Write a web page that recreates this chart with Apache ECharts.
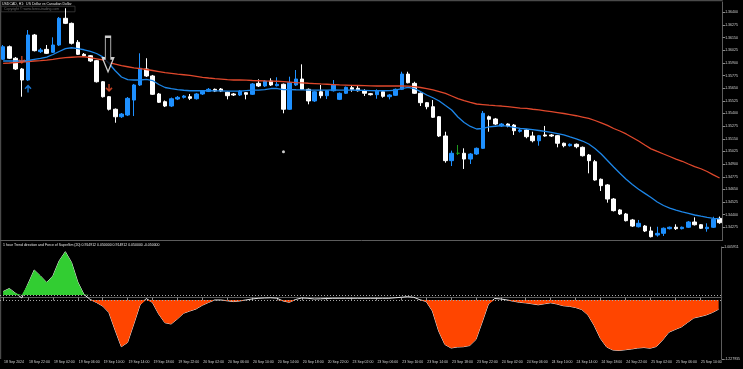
<!DOCTYPE html>
<html><head><meta charset="utf-8">
<script src="https://cdn.jsdelivr.net/npm/echarts@6/dist/echarts.min.js"></script>
<style>html,body{margin:0;padding:0;background:#000}#c{width:743px;height:369px}</style>
</head><body><div id="c"></div>
<script>
// ---- data ----
const sessions = [['18 Sep',18,23],['19 Sep',0,23],['20 Sep',0,23],['23 Sep',0,23],['24 Sep',0,23],['25 Sep',0,13]];
const xTickLabels = ['18 Sep 2024','18 Sep 22:00','19 Sep 02:00','19 Sep 06:00','19 Sep 10:00','19 Sep 14:00','19 Sep 18:00','19 Sep 22:00',
  '20 Sep 02:00','20 Sep 06:00','20 Sep 10:00','20 Sep 14:00','20 Sep 18:00','20 Sep 22:00','23 Sep 02:00','23 Sep 06:00',
  '23 Sep 10:00','23 Sep 14:00','23 Sep 18:00','23 Sep 22:00','24 Sep 02:00','24 Sep 06:00','24 Sep 10:00','24 Sep 14:00',
  '24 Sep 18:00','24 Sep 22:00','25 Sep 02:00','25 Sep 06:00','25 Sep 10:00'];
const priceTicks = {min: 1.3415, max: 1.36502, step: 0.00125};
// [open, close, low, high]
const ohlc = [
[1.35936,1.36060,1.35929,1.36077],[1.36060,1.35946,1.35939,1.36072],[1.35946,1.35840,1.35830,1.35958],[1.35840,1.35731,1.35566,1.35850],
[1.35731,1.36176,1.35721,1.36225],[1.36176,1.36021,1.36013,1.36186],[1.36011,1.36028,1.35998,1.36047],[1.36034,1.35995,1.35988,1.36077],
[1.36005,1.36077,1.35998,1.36153],[1.36077,1.36341,1.36067,1.36354],[1.36341,1.36291,1.36284,1.36440],[1.36291,1.36094,1.36082,1.36299],
[1.36104,1.35985,1.35978,1.36126],[1.35985,1.35971,1.35958,1.35998],[1.35971,1.35919,1.35909,1.35978],[1.35922,1.35714,1.35706,1.35929],
[1.35714,1.35566,1.35558,1.35721],[1.35566,1.35442,1.35430,1.35573],[1.35442,1.35368,1.35309,1.35450],[1.35368,1.35395,1.35356,1.35405],
[1.35385,1.35550,1.35375,1.35563],[1.35533,1.35682,1.35375,1.35692],[1.35682,1.35847,1.35672,1.35995],[1.35840,1.35771,1.35761,1.35946],
[1.35771,1.35590,1.35583,1.35781],[1.35593,1.35511,1.35504,1.35603],[1.35517,1.35474,1.35464,1.35529],[1.35474,1.35546,1.35464,1.35558],
[1.35543,1.35560,1.35533,1.35573],[1.35560,1.35573,1.35548,1.35583],[1.35566,1.35550,1.35533,1.35593],[1.35546,1.35593,1.35538,1.35603],
[1.35593,1.35622,1.35583,1.35632],[1.35619,1.35639,1.35612,1.35652],[1.35639,1.35622,1.35612,1.35647],[1.35642,1.35622,1.35612,1.35652],
[1.35610,1.35576,1.35540,1.35617],[1.35593,1.35583,1.35573,1.35603],[1.35583,1.35622,1.35573,1.35632],[1.35606,1.35590,1.35540,1.35612],
[1.35590,1.35692,1.35583,1.35701],[1.35698,1.35672,1.35662,1.35738],[1.35672,1.35721,1.35662,1.35731],[1.35721,1.35682,1.35672,1.35748],
[1.35675,1.35689,1.35667,1.35758],[1.35689,1.35442,1.35402,1.35696],[1.35442,1.35704,1.35435,1.35764],[1.35682,1.35741,1.35672,1.35830],
[1.35741,1.35639,1.35632,1.35886],[1.35639,1.35524,1.35491,1.35647],[1.35524,1.35615,1.35514,1.35622],[1.35615,1.35576,1.35550,1.35682],
[1.35576,1.35625,1.35543,1.35632],[1.35625,1.35682,1.35617,1.35731],[1.35540,1.35600,1.35533,1.35608],[1.35600,1.35659,1.35593,1.35667],
[1.35655,1.35639,1.35615,1.35682],[1.35649,1.35625,1.35617,1.35672],[1.35622,1.35600,1.35573,1.35639],[1.35596,1.35586,1.35578,1.35603],
[1.35586,1.35622,1.35546,1.35639],[1.35615,1.35570,1.35556,1.35622],[1.35566,1.35583,1.35540,1.35593],[1.35580,1.35639,1.35573,1.35647],
[1.35639,1.35790,1.35632,1.35813],[1.35790,1.35704,1.35698,1.35813],[1.35698,1.35600,1.35593,1.35714],[1.35600,1.35507,1.35474,1.35608],
[1.35507,1.35467,1.35442,1.35514],[1.35467,1.35363,1.35356,1.35533],[1.35368,1.35178,1.35168,1.35375],[1.35178,1.34934,1.34914,1.35220],
[1.34934,1.35007,1.34881,1.35033],[1.35007,1.35007,1.34990,1.35089],[1.35007,1.34950,1.34852,1.35056],[1.34950,1.35000,1.34901,1.35010],
[1.35000,1.35056,1.34990,1.35064],[1.35056,1.35402,1.35049,1.35425],[1.35368,1.35343,1.35220,1.35380],[1.35346,1.35296,1.35286,1.35356],
[1.35277,1.35296,1.35267,1.35306],[1.35296,1.35277,1.35264,1.35303],[1.35286,1.35230,1.35188,1.35296],[1.35224,1.35237,1.35212,1.35247],
[1.35237,1.35171,1.35155,1.35247],[1.35178,1.35131,1.35115,1.35220],[1.35131,1.35181,1.35082,1.35188],[1.35188,1.35178,1.35171,1.35277],
[1.35188,1.35178,1.35168,1.35198],[1.35181,1.35106,1.35066,1.35188],[1.35106,1.35082,1.35066,1.35113],[1.35082,1.35096,1.35074,1.35104],
[1.35096,1.35072,1.35056,1.35104],[1.35066,1.34983,1.34975,1.35074],[1.34990,1.34934,1.34809,1.35000],[1.34924,1.34743,1.34736,1.34941],
[1.34750,1.34687,1.34634,1.34758],[1.34694,1.34555,1.34519,1.34703],[1.34555,1.34440,1.34432,1.34565],[1.34447,1.34407,1.34397,1.34456],
[1.34407,1.34341,1.34333,1.34417],[1.34348,1.34288,1.34279,1.34358],[1.34281,1.34315,1.34274,1.34348],[1.34288,1.34239,1.34229,1.34298],
[1.34239,1.34183,1.34175,1.34281],[1.34199,1.34216,1.34183,1.34281],[1.34216,1.34266,1.34190,1.34274],[1.34262,1.34276,1.34254,1.34283],
[1.34276,1.34262,1.34249,1.34305],[1.34262,1.34276,1.34254,1.34283],[1.34276,1.34328,1.34269,1.34338],[1.34328,1.34301,1.34293,1.34374],
[1.34301,1.34266,1.34259,1.34308],[1.34262,1.34276,1.34232,1.34315],[1.34276,1.34355,1.34269,1.34380],[1.34364,1.34321,1.34310,1.34382]
];
const maFast = [1.35919,1.35919,1.35919,1.35919,1.35924,1.35934,1.35944,1.35958,1.35983,1.36013,1.36042,1.36050,1.36042,1.36030,1.36015,1.35993,
1.35960,1.35894,1.35823,1.35761,1.35734,1.35731,1.35731,1.35738,1.35726,1.35687,1.35657,1.35645,1.35637,1.35630,1.35625,1.35625,
1.35625,1.35625,1.35624,1.35623,1.35622,1.35622,1.35622,1.35627,1.35632,1.35632,1.35637,1.35647,1.35647,1.35637,1.35637,1.35635,
1.35634,1.35632,1.35632,1.35632,1.35632,1.35634,1.35632,1.35632,1.35632,1.35630,1.35628,1.35626,1.35625,1.35625,1.35627,1.35630,
1.35647,1.35659,1.35647,1.35617,1.35583,1.35556,1.35524,1.35479,1.35435,1.35365,1.35311,1.35272,1.35247,1.35252,1.35267,1.35274,
1.35280,1.35275,1.35264,1.35254,1.35247,1.35240,1.35232,1.35224,1.35214,1.35202,1.35188,1.35168,1.35150,1.35128,1.35099,1.35054,
1.35000,1.34936,1.34871,1.34809,1.34750,1.34698,1.34652,1.34611,1.34570,1.34526,1.34491,1.34466,1.34446,1.34427,1.34412,1.34397,
1.34385,1.34374,1.34364,1.34360];
const maSlow = [1.35896,1.35899,1.35904,1.35909,1.35914,1.35919,1.35922,1.35927,1.35934,1.35944,1.35952,1.35956,1.35959,1.35961,1.35953,1.35941,
1.35929,1.35904,1.35889,1.35874,1.35862,1.35850,1.35844,1.35835,1.35825,1.35815,1.35805,1.35797,1.35789,1.35783,1.35776,1.35768,
1.35758,1.35751,1.35745,1.35740,1.35735,1.35731,1.35731,1.35729,1.35726,1.35724,1.35722,1.35721,1.35719,1.35715,1.35711,1.35706,
1.35703,1.35699,1.35696,1.35692,1.35689,1.35686,1.35683,1.35681,1.35679,1.35677,1.35675,1.35673,1.35672,1.35672,1.35672,1.35672,
1.35672,1.35670,1.35666,1.35657,1.35647,1.35634,1.35617,1.35598,1.35573,1.35548,1.35527,1.35509,1.35494,1.35488,1.35482,1.35477,
1.35474,1.35468,1.35461,1.35454,1.35450,1.35442,1.35435,1.35427,1.35418,1.35409,1.35400,1.35390,1.35378,1.35365,1.35351,1.35331,
1.35308,1.35282,1.35252,1.35227,1.35198,1.35163,1.35128,1.35089,1.35051,1.35025,1.35000,1.34975,1.34950,1.34928,1.34901,1.34876,
1.34854,1.34827,1.34794,1.34763];
const tdf = [0.118,0.178,0.083,-0.011,0.268,0.547,0.428,0.298,0.428,0.727,0.912,0.697,0.308,0.059,-0.041,-0.101,
-0.171,-0.301,-0.650,-0.983,-0.899,-0.530,-0.151,-0.021,-0.101,-0.330,-0.504,-0.530,-0.430,-0.316,-0.271,-0.231,
-0.157,-0.101,-0.051,-0.051,-0.067,-0.083,-0.071,-0.051,-0.031,-0.017,-0.011,-0.007,-0.015,-0.071,-0.097,-0.041,
-0.011,-0.017,-0.031,-0.027,-0.021,-0.017,-0.017,-0.017,-0.017,-0.017,-0.017,-0.017,-0.017,-0.017,-0.017,-0.007,
0.003,0.015,0.003,-0.047,-0.081,-0.271,-0.670,-0.939,-1.009,-0.989,-0.983,-0.959,-0.839,-0.490,-0.131,-0.021,
-0.031,-0.051,-0.075,-0.097,-0.109,-0.127,-0.147,-0.127,-0.107,-0.131,-0.165,-0.177,-0.201,-0.241,-0.350,-0.560,
-0.819,-0.989,-1.048,-1.058,-1.044,-1.029,-1.009,-0.999,-1.013,-0.979,-0.849,-0.695,-0.640,-0.590,-0.500,-0.410,
-0.382,-0.350,-0.301,-0.235];
const tdfRange = {min: -1.227935, max: 1.005911};
const tdfLevels = [0.05, -0.05];
const smallArrows = [{bar: 3, price: 1.35929, dir: 'down'}, {bar: 4, price: 1.35647, dir: 'up'}, {bar: 17, price: 1.35652, dir: 'down'}];
const bigArrows = [{bar: 17, price: 1.35986}];
const dots = [{bar: 45, price: 1.35023}];

// ---- build ----
const categories = [];
sessions.forEach(([d, h0, h1]) => { for (let h = h0; h <= h1; h++) categories.push(d + ' ' + String(h).padStart(2, '0') + ':00'); });

const FONT = 'Liberation Sans';
const FS = 3.5;
const TXT = '#d4d4d4';
const FRAME = '#5c5c5c';
const L = -2.3, R = 20.3;

const downPath = 'path://M4,0L6,0L6,7L8.5,4.5L10,6L5,11L0,6L1.5,4.5L4,7Z';
const upPath = 'path://M4,11L6,11L6,4L8.5,6.5L10,5L5,0L0,5L1.5,6.5L4,4Z';
const bigPath = 'path://M2.7,0L8,0L8,21.6L10.7,21.6L5.35,35L0,21.6L2.7,21.6Z';

const chart = echarts.init(document.getElementById('c'), null, {renderer: 'canvas'});
chart.setOption({
  backgroundColor: '#000',
  animation: false,
  title: [
    {text: 'USDCAD, H1:  US Dollar vs Canadian Dollar', left: 2, top: 1.6, padding: 0,
      textStyle: {fontSize: FS, color: '#e6e6e6', fontWeight: 'normal', fontFamily: FONT}},
    {text: '1 hour Trend direction and Force of SuperSm (20) 0.914912 0.050000 0.914912 0.050000 -0.050000', left: 3, top: 242.6, padding: 0,
      textStyle: {fontSize: FS, color: '#e6e6e6', fontWeight: 'normal', fontFamily: FONT}}
  ],
  graphic: [
    {type: 'rect', shape: {x: 0, y: 0, width: 722.7, height: 1.2}, style: {fill: '#4a4a4a'}, silent: true},
    {type: 'rect', shape: {x: 0, y: 0, width: 1.2, height: 359}, style: {fill: '#4a4a4a'}, silent: true},
    {type: 'rect', shape: {x: 1, y: 6.2, width: 74, height: 5.6}, style: {fill: 'none', stroke: '#3c3c3c', lineWidth: 0.8}, silent: true},
    {type: 'text', left: 4, top: 7.2, style: {text: 'Copyright © www.forex-trading.com', fill: '#6a6a6a', font: FS + 'px "' + FONT + '"'}, silent: true}
  ],
  grid: [
    {left: L, right: R, top: 2, height: 238},
    {left: L, right: R, top: 247, height: 112}
  ],
  xAxis: [
    {type: 'category', gridIndex: 0, data: categories, boundaryGap: true,
      axisLine: {show: true, lineStyle: {color: FRAME, width: 1}}, axisTick: {show: false}, axisLabel: {show: false}, splitLine: {show: false}},
    {type: 'category', gridIndex: 1, data: categories, boundaryGap: true,
      axisLine: {show: true, lineStyle: {color: FRAME, width: 1}},
      axisTick: {show: true, interval: 3, alignWithLabel: true, length: 3, lineStyle: {color: '#8a8a8a'}},
      axisLabel: {interval: 3, align: 'left', margin: 1.5, padding: [0, 0, 0, 1], fontSize: FS, color: TXT, fontFamily: FONT,
        formatter: (v, i) => xTickLabels[Math.round(i / 4)] || ''},
      splitLine: {show: false}}
  ],
  yAxis: [
    {type: 'value', gridIndex: 0, position: 'right', min: priceTicks.min, max: priceTicks.max, interval: priceTicks.step, scale: true,
      axisLine: {show: true, lineStyle: {color: FRAME}}, axisTick: {show: true, length: 2.5, lineStyle: {color: '#8a8a8a'}},
      splitLine: {show: false},
      axisLabel: {fontSize: FS, color: TXT, fontFamily: FONT, margin: 2.5, showMinLabel: false, showMaxLabel: false, formatter: v => v.toFixed(5)}},
    {type: 'value', gridIndex: 1, position: 'right', min: tdfRange.min, max: tdfRange.max, interval: tdfRange.max - tdfRange.min,
      axisLine: {show: true, lineStyle: {color: FRAME}}, axisTick: {show: true, length: 2.5, lineStyle: {color: '#8a8a8a'}},
      splitLine: {show: false},
      axisLabel: {fontSize: FS, color: TXT, fontFamily: FONT, margin: 2.5, formatter: v => v.toFixed(6)}}
  ],
  series: [
    {type: 'candlestick', xAxisIndex: 0, yAxisIndex: 0, data: ohlc, barWidth: 4, z: 2,
      itemStyle: {color: '#1e90ff', color0: '#ffffff', borderColor: '#1e90ff', borderColor0: '#ffffff', borderColorDoji: '#1f9a1f', borderWidth: 1}},
    {type: 'line', xAxisIndex: 0, yAxisIndex: 0, data: maSlow, showSymbol: false, z: 3,
      lineStyle: {color: '#e0482c', width: 1.3}},
    {type: 'line', xAxisIndex: 0, yAxisIndex: 0, data: maFast, showSymbol: false, z: 3,
      lineStyle: {color: '#1d86e8', width: 1.3}},
    {type: 'scatter', xAxisIndex: 0, yAxisIndex: 0, z: 4,
      data: smallArrows.map(a => ({value: [a.bar, a.price], symbol: a.dir === 'down' ? downPath : upPath,
        itemStyle: {color: a.dir === 'down' ? '#f0502a' : '#1e90ff'}})),
      symbolSize: [7, 8]},
    {type: 'scatter', xAxisIndex: 0, yAxisIndex: 0, z: 5,
      data: bigArrows.map(a => [a.bar, a.price]), symbol: bigPath, symbolSize: [11, 35], symbolOffset: [-1, 0],
      itemStyle: {color: '#000', borderColor: '#ffffff', borderWidth: 1.5}},
    {type: 'scatter', xAxisIndex: 0, yAxisIndex: 0, z: 4,
      data: dots.map(d => [d.bar, d.price]), symbol: 'circle', symbolSize: 3, itemStyle: {color: '#fff'}},
    {type: 'line', xAxisIndex: 1, yAxisIndex: 1, data: tdf, showSymbol: false, z: 2,
      lineStyle: {color: '#e8e8e8', width: 1},
      markLine: {silent: true, symbol: ['none', 'none'], label: {show: false},
        lineStyle: {color: '#a8a8a8', type: [1, 2], width: 1},
        data: tdfLevels.map(v => ({yAxis: v}))}},
    {type: 'line', xAxisIndex: 1, yAxisIndex: 1, data: tdf.map(v => v > tdfLevels[0] ? v : tdfLevels[0]), showSymbol: false, z: 3,
      lineStyle: {width: 0, opacity: 0}, areaStyle: {color: '#32cd32', opacity: 1, origin: tdfLevels[0]}},
    {type: 'line', xAxisIndex: 1, yAxisIndex: 1, data: tdf.map(v => v < tdfLevels[1] ? v : tdfLevels[1]), showSymbol: false, z: 3,
      lineStyle: {width: 0, opacity: 0}, areaStyle: {color: '#ff4500', opacity: 1, origin: tdfLevels[1]}}
  ]
});
</script>
</body></html>
